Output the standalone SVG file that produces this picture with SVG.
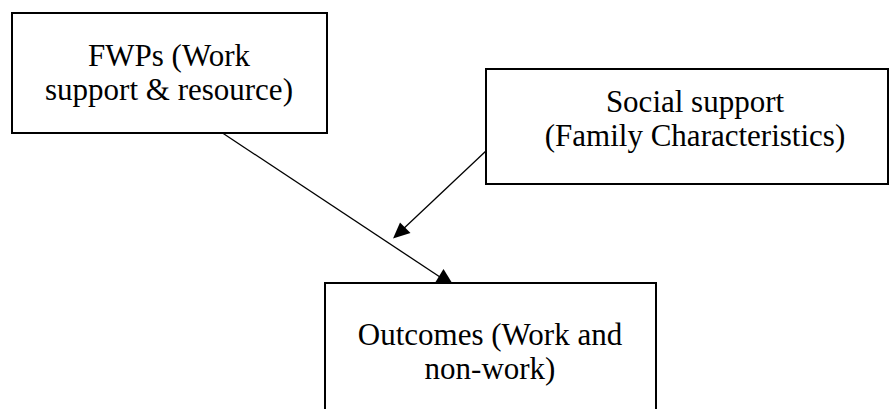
<svg xmlns="http://www.w3.org/2000/svg" width="893" height="409" viewBox="0 0 893 409">
<style>
.box{fill:#fff;stroke:#000;stroke-width:2}
.lbl{font-family:"Liberation Serif","Times New Roman",serif;font-size:31px;fill:#000;text-anchor:middle}
.conn{stroke:#000;stroke-width:1.3;fill:none}
.head{fill:#000;stroke:none}
</style>
<rect width="893" height="409" fill="#fff"/>
<g id="connectors">
<line class="conn" x1="218" y1="130" x2="446" y2="281"/>
<polygon class="head" points="443.5,269 435.5,282 451.5,282"/>
<line class="conn" x1="487" y1="150" x2="400" y2="232"/>
<polygon class="head" points="393,238.5 400,222.5 410.5,233"/>
</g>
<g id="fwps">
<rect class="box" x="12" y="13" width="315" height="120"/>
<text class="lbl" x="169" y="66">FWPs (Work</text>
<text class="lbl" x="169" y="100">support &amp; resource)</text>
</g>
<g id="social">
<rect class="box" x="486" y="69" width="402" height="115"/>
<text class="lbl" x="695" y="112">Social support</text>
<text class="lbl" x="695" y="146">(Family Characteristics)</text>
</g>
<g id="outcomes">
<rect class="box" x="325" y="283" width="331" height="140"/>
<text class="lbl" x="490" y="345">Outcomes (Work and</text>
<text class="lbl" x="490" y="379">non-work)</text>
</g>
</svg>
